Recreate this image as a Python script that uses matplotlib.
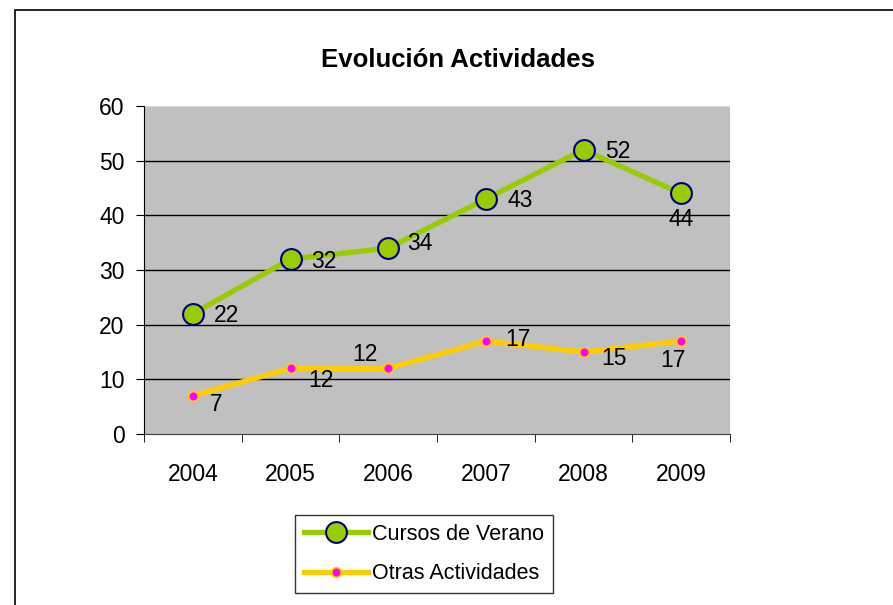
import matplotlib
matplotlib.use("Agg")
import matplotlib.pyplot as plt
from matplotlib.patches import Rectangle

years = ["2004", "2005", "2006", "2007", "2008", "2009"]
cursos = [22, 32, 34, 43, 52, 44]
otras = [7, 12, 12, 17, 15, 17]

# label offsets in points (dx, dy)
cursos_off = [(24, -1), (24, -2), (23, 3), (25, -1), (25, -1), (0, -19)]
otras_off = [(17, -6), (22, -9), (-17, 10), (23, 1), (22, -5), (-6, -14)]

plt.rcParams["font.family"] = ["Liberation Sans", "DejaVu Sans"]

GREEN = "#99CC00"
YELLOW = "#FFCC00"
FS = 16.5

fig = plt.figure(figsize=(8.93, 6.05), dpi=100)
fig.patches.append(Rectangle((15 / 893, -0.05), 1.0, 1 - 10 / 605 + 0.05,
                             transform=fig.transFigure, fill=False,
                             edgecolor="black", lw=1.2))
ax = fig.add_axes([144 / 893, 1 - 434 / 605, 586 / 893, 328 / 605])
ax.set_facecolor("#C0C0C0")

x = list(range(len(years)))
ax.plot(x, cursos, color=GREEN, lw=3.8, marker="o", ms=15,
        mfc=GREEN, mec="#000080", mew=1.5, zorder=3, label="Cursos de Verano")
ax.plot(x, otras, color=YELLOW, lw=3.8, marker="o", ms=7,
        mfc="#FF00FF", mec=YELLOW, mew=1.2, zorder=3, label="Otras Actividades")

for xi, v, (dx, dy) in zip(x, cursos, cursos_off):
    ax.annotate(str(v), (xi, v), xytext=(dx, dy), textcoords="offset points",
                ha="center", va="center", fontsize=FS, zorder=4)
for xi, v, (dx, dy) in zip(x, otras, otras_off):
    ax.annotate(str(v), (xi, v), xytext=(dx, dy), textcoords="offset points",
                ha="center", va="center", fontsize=FS, zorder=4)

ax.set_xlim(-0.5, 5.5)
ax.set_ylim(0, 60)
ax.set_yticks(range(0, 61, 10))
for g in range(10, 60, 10):
    ax.axhline(g, color="black", lw=1, zorder=1)
ax.axhline(60, color="#D8D8D8", lw=1, zorder=1)
ax.set_xticks(x)
ax.set_xticklabels(years)
ax.set_xticks([i - 0.5 for i in range(7)], minor=True)
ax.tick_params(axis="x", which="major", length=0, pad=21, labelsize=FS)
ax.tick_params(axis="x", which="minor", length=6, direction="out")
ax.tick_params(axis="y", length=6, direction="out", labelsize=FS, pad=8)
for s in ("top", "right"):
    ax.spines[s].set_visible(False)
ax.spines["left"].set_color("black")
ax.spines["bottom"].set_color("#404040")

fig.text(458 / 893, 1 - 60 / 605, "Evolución Actividades", ha="center",
         va="center", fontsize=18.5, fontweight="bold")

leg = fig.legend(loc="center", bbox_to_anchor=(424 / 893, 1 - 554 / 605),
                 fontsize=15.5, frameon=True, fancybox=False, edgecolor="black",
                 handlelength=3.0, borderpad=0.4, labelspacing=0.85,
                 handletextpad=0.2)
leg.get_frame().set_linewidth(1.0)

fig.savefig("out.png", dpi=100)
